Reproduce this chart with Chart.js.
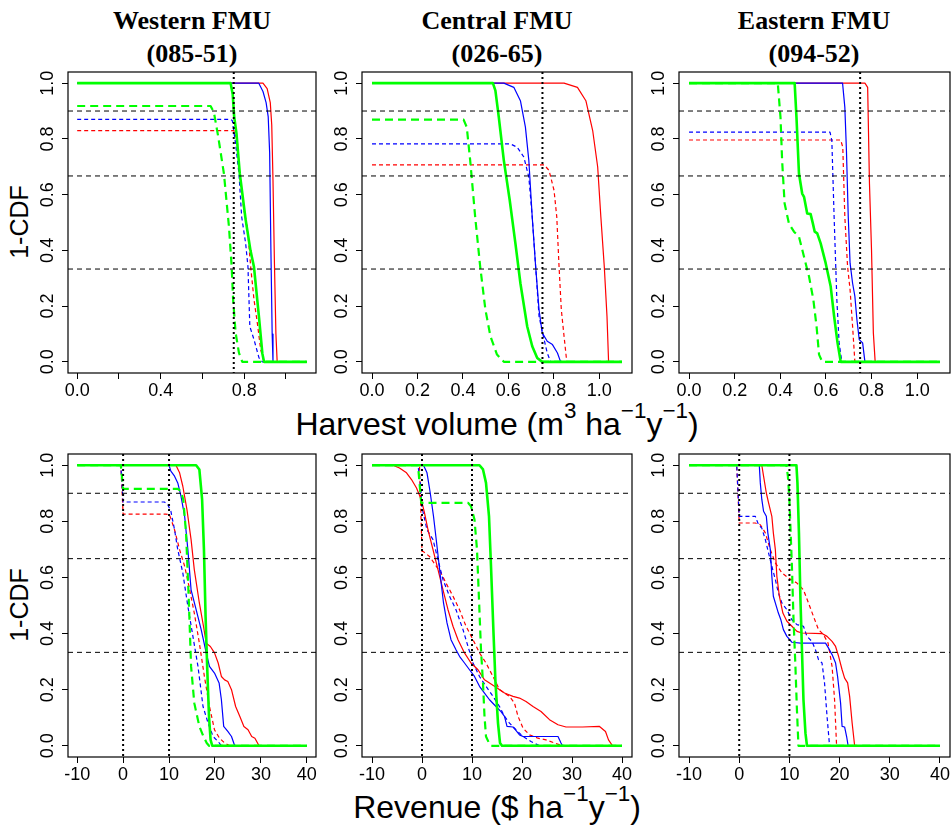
<!DOCTYPE html>
<html>
<head>
<meta charset="utf-8">
<script src="https://cdn.jsdelivr.net/npm/chart.js@4.4.1/dist/chart.umd.min.js"></script>
<style>
  html, body { margin: 0; padding: 0; background: #fff; }
  body { width: 952px; height: 828px; position: relative; overflow: hidden; }
  .panel { position: absolute; }
  .ttl {
    position: absolute; transform: translateX(-50%); white-space: nowrap; text-align: center;
    font: bold 26px 'Liberation Serif', 'Times New Roman', serif; line-height: 33px; color: #000;
  }
  .axt {
    position: absolute; transform: translateX(-50%); white-space: nowrap;
    font: 32px 'Liberation Sans', Arial, sans-serif; line-height: 40px; color: #000;
  }
  .axt .sup { font-size: 0.7em; vertical-align: 0.76em; line-height: 0; }
  .ylab {
    position: absolute; width: 100px; height: 30px; line-height: 30px; text-align: center;
    font: 25px 'Liberation Sans', Arial, sans-serif; color: #000; transform: rotate(-90deg);
  }
</style>
</head>
<body>
<div class="ttl" style="left:192px; top:4px">Western FMU<br>(085-51)</div>
<div class="ttl" style="left:497px; top:4px">Central FMU<br>(026-65)</div>
<div class="ttl" style="left:814px; top:4px">Eastern FMU<br>(094-52)</div>
<div class="axt" style="left:497px; top:404px">Harvest volume (m<span class="sup">3</span> ha<span class="sup">−1</span>y<span class="sup">−1</span>)</div>
<div class="axt" style="left:497px; top:787px">Revenue ($ ha<span class="sup">−1</span>y<span class="sup">−1</span>)</div>
<div class="ylab" style="left:-30px; top:207px">1-CDF</div>
<div class="ylab" style="left:-30px; top:590px">1-CDF</div>

<script>
// ---- data: [x, 1-CDF] pairs per management scenario ----

// harvest volume, Western FMU (085-51)
const volWestRed = [[0,1],[0.89,1],[0.91,0.98],[0.925,0.93],[0.932,0.85],[0.938,0.65],[0.945,0.35],[0.952,0.1],[0.958,0],[1.1,0]];
const volWestBlue = [[0,1],[0.87,1],[0.89,0.97],[0.905,0.93],[0.915,0.88],[0.922,0.75],[0.928,0.4],[0.934,0.1],[0.938,0],[1.1,0]];
const volWestGreen = [[0,1],[0.735,1],[0.745,0.96],[0.752,0.88],[0.763,0.82],[0.779,0.675],[0.807,0.51],[0.83,0.4],[0.847,0.34],[0.871,0.16],[0.887,0.03],[0.895,0],[1.1,0]];
const volWestRedDash = [[0,0.83],[0.751,0.83],[0.767,0.794],[0.779,0.663],[0.799,0.544],[0.815,0.485],[0.831,0.342],[0.847,0.223],[0.863,0.139],[0.879,0.044],[0.895,0],[1.1,0]];
const volWestBlueDash = [[0,0.87],[0.735,0.87],[0.743,0.866],[0.759,0.782],[0.775,0.675],[0.788,0.52],[0.807,0.425],[0.818,0.342],[0.827,0.127],[0.847,0.08],[0.871,0.014],[0.887,0],[1.1,0]];
const volWestGreenDash = [[0,0.918],[0.639,0.918],[0.655,0.895],[0.676,0.806],[0.703,0.675],[0.727,0.485],[0.74,0.342],[0.747,0.223],[0.759,0.104],[0.775,0.032],[0.791,0],[1.1,0]];

// harvest volume, Central FMU (026-65)
const volCentRed = [[0,1],[0.845,1],[0.904,0.985],[0.941,0.937],[0.971,0.83],[0.993,0.699],[1.007,0.52],[1.022,0.342],[1.034,0.163],[1.041,0],[1.1,0]];
const volCentBlue = [[0,1],[0.58,1],[0.624,0.985],[0.653,0.937],[0.675,0.842],[0.69,0.723],[0.705,0.52],[0.72,0.342],[0.735,0.187],[0.749,0.104],[0.771,0.074],[0.794,0.062],[0.816,0.032],[0.83,0],[1.1,0]];
const volCentGreen = [[0,1],[0.532,1],[0.543,0.973],[0.558,0.877],[0.58,0.723],[0.606,0.58],[0.631,0.425],[0.653,0.282],[0.683,0.127],[0.705,0.056],[0.727,0.014],[0.749,0],[1.1,0]];
const volCentRedDash = [[0,0.707],[0.757,0.707],[0.779,0.687],[0.801,0.615],[0.813,0.52],[0.823,0.342],[0.833,0.187],[0.845,0.092],[0.857,0],[1.1,0]];
const volCentBlueDash = [[0,0.782],[0.609,0.782],[0.639,0.77],[0.668,0.735],[0.69,0.663],[0.705,0.52],[0.72,0.342],[0.735,0.163],[0.754,0.092],[0.771,0.032],[0.786,0],[1.1,0]];
const volCentGreenDash = [[0,0.869],[0.403,0.869],[0.417,0.842],[0.432,0.723],[0.454,0.52],[0.476,0.342],[0.499,0.187],[0.521,0.092],[0.55,0.026],[0.58,0],[1.1,0]];

// harvest volume, Eastern FMU (094-52)
const volEastRed = [[0,1],[0.771,1],[0.783,0.985],[0.791,0.639],[0.8,0.4],[0.808,0.104],[0.816,0],[1.1,0]];
const volEastBlue = [[0,1],[0.673,1],[0.683,0.913],[0.69,0.758],[0.698,0.52],[0.706,0.354],[0.717,0.282],[0.727,0.235],[0.736,0.151],[0.746,0.08],[0.761,0.068],[0.771,0],[1.1,0]];
const volEastGreen = [[0,1],[0.463,1],[0.471,0.877],[0.482,0.675],[0.496,0.604],[0.504,0.592],[0.518,0.532],[0.533,0.53],[0.543,0.496],[0.551,0.467],[0.562,0.461],[0.577,0.425],[0.599,0.354],[0.621,0.27],[0.636,0.163],[0.651,0.068],[0.665,0],[1.1,0]];
const volEastRedDash = [[0,0.796],[0.665,0.796],[0.674,0.77],[0.683,0.52],[0.695,0.342],[0.706,0.258],[0.717,0.127],[0.727,0],[1.1,0]];
const volEastBlueDash = [[0,0.824],[0.618,0.824],[0.626,0.794],[0.636,0.52],[0.648,0.223],[0.658,0.068],[0.67,0],[1.1,0]];
const volEastGreenDash = [[0,1],[0.389,1],[0.401,0.877],[0.408,0.723],[0.419,0.568],[0.438,0.496],[0.46,0.467],[0.482,0.449],[0.504,0.377],[0.526,0.306],[0.545,0.223],[0.559,0.127],[0.57,0.026],[0.584,0],[1.1,0]];

// revenue, Western FMU
const revWestRed = [[-10,1],[11.5,1],[12.3,0.973],[13,0.925],[13.9,0.842],[14.8,0.735],[15.5,0.628],[16.6,0.509],[17.5,0.426],[18.1,0.366],[19,0.354],[19.9,0.331],[20.7,0.295],[21.4,0.247],[22.1,0.235],[22.8,0.229],[23.6,0.2],[24.5,0.14],[25.4,0.105],[26.3,0.069],[27.2,0.057],[28,0.033],[28.7,0.027],[29.6,0],[40,0]];
const revWestBlue = [[-10,1],[10,1],[10.4,0.979],[11.2,0.961],[11.9,0.937],[12.6,0.89],[13.4,0.818],[14.1,0.699],[14.8,0.556],[15.9,0.485],[17,0.414],[18.1,0.331],[18.8,0.283],[19.9,0.259],[20.9,0.224],[21.4,0.164],[21.9,0.069],[22.8,0.051],[23.6,0.033],[24.3,0],[40,0]];
const revWestGreen = [[-10,1],[15.9,1],[16.6,0.985],[17.2,0.878],[17.6,0.7],[17.96,0.46],[18.3,0.283],[18.7,0.105],[19.05,0.021],[19.4,0],[40,0]];
const revWestRedDash = [[-10,1],[-0.5,1],[0,0.826],[9.3,0.826],[10.1,0.824],[11.2,0.77],[12.3,0.699],[13.4,0.64],[14.5,0.556],[15.5,0.473],[16.6,0.366],[17.7,0.247],[18.8,0.14],[19.9,0.057],[21,0.027],[22.1,0.01],[23.2,0],[40,0]];
const revWestBlueDash = [[-10,1],[-0.5,1],[0,0.869],[9,0.869],[9.7,0.86],[10.4,0.836],[11.2,0.77],[11.9,0.699],[13,0.616],[14.1,0.497],[15.2,0.39],[16.3,0.283],[17.4,0.14],[18.5,0.081],[19.6,0.033],[20.7,0.015],[21.4,0],[40,0]];
const revWestGreenDash = [[-10,1],[-0.5,1],[0,0.916],[11.9,0.916],[12.6,0.907],[13.1,0.878],[13.7,0.759],[14.3,0.521],[14.8,0.283],[15.5,0.152],[16.6,0.069],[17.5,0.033],[18.2,0.01],[18.7,0],[40,0]];

// revenue, Central FMU
const revCentRed = [[-10,1],[-5.8,1],[-4.5,0.99],[-3.1,0.973],[-2.1,0.949],[-1.1,0.919],[-0.15,0.878],[0.5,0.83],[1.2,0.77],[2.2,0.699],[3.2,0.628],[4.2,0.556],[5.2,0.485],[6.2,0.426],[7.2,0.378],[8.5,0.331],[9.8,0.295],[11.2,0.271],[12.5,0.235],[13.5,0.224],[14.8,0.209],[16.5,0.188],[18.2,0.176],[19.5,0.17],[20.8,0.158],[22.2,0.14],[23.8,0.122],[25.5,0.093],[27.2,0.075],[28.8,0.067],[32.1,0.067],[35.5,0.069],[36.7,0.051],[37.3,0.021],[38.1,0],[40,0]];
const revCentBlue = [[-10,1],[0.3,1],[1,0.973],[1.65,0.901],[2.3,0.818],[3,0.711],[3.6,0.616],[4.3,0.509],[5,0.438],[5.8,0.378],[6.8,0.342],[7.5,0.319],[8.5,0.295],[9.5,0.271],[10.5,0.247],[11.5,0.212],[12.5,0.188],[13.5,0.164],[14.8,0.14],[15.8,0.122],[16.5,0.105],[17,0.069],[18.2,0.067],[18.7,0.057],[19.5,0.039],[20.2,0.033],[27.2,0.033],[27.8,0.01],[28.1,0],[40,0]];
const revCentGreen = [[-10,1],[11.5,1],[12.2,0.985],[12.8,0.937],[13.4,0.818],[13.8,0.64],[14.3,0.402],[14.7,0.224],[15.2,0.081],[15.6,0.01],[16,0],[40,0]];
const revCentRedDash = [[-10,1],[-0.5,1],[0,0.693],[0.2,0.693],[1.5,0.675],[2.85,0.64],[3.8,0.616],[4.8,0.58],[6.2,0.533],[7.5,0.485],[8.8,0.426],[10.2,0.378],[11.5,0.331],[12.8,0.295],[14.2,0.247],[15.5,0.2],[17.5,0.176],[18.5,0.152],[19.2,0.105],[20.2,0.063],[21.5,0.039],[23.2,0.027],[24.8,0.021],[26.5,0.01],[28.1,0],[40,0]];
const revCentBlueDash = [[-10,1],[-0.8,1],[-0.3,0.93],[0,0.85],[1,0.77],[2.2,0.735],[3.2,0.663],[4.2,0.592],[5.5,0.533],[6.8,0.485],[8.2,0.414],[9.2,0.354],[10.2,0.295],[11.5,0.247],[12.8,0.212],[14.2,0.176],[15.5,0.14],[16.5,0.105],[17.5,0.081],[18.8,0.057],[20.2,0.033],[21.8,0.015],[23.5,0],[40,0]];
const revCentGreenDash = [[-10,1],[-0.8,1],[-0.15,0.866],[9.2,0.866],[9.8,0.854],[10.5,0.806],[11,0.699],[11.4,0.521],[11.8,0.342],[12.2,0.224],[12.5,0.105],[12.8,0.033],[13.4,0.01],[13.8,0],[40,0]];

// revenue, Eastern FMU
const revEastRed = [[-10,1],[4.5,1],[4.85,0.961],[5.4,0.901],[5.85,0.866],[6.5,0.818],[6.8,0.759],[7.2,0.699],[7.5,0.604],[8,0.533],[8.7,0.473],[9.5,0.444],[10.5,0.426],[11.5,0.408],[12.5,0.402],[16.5,0.4],[17.5,0.39],[18.5,0.372],[19.2,0.354],[19.8,0.319],[20.5,0.271],[21,0.241],[21.6,0.224],[22,0.176],[22.5,0.081],[23,0],[40,0]];
const revEastBlue = [[-10,1],[4,1],[4.2,0.937],[4.5,0.878],[4.85,0.836],[5.4,0.818],[5.7,0.759],[6.2,0.699],[6.5,0.604],[6.8,0.533],[7.4,0.497],[7.8,0.473],[8.3,0.449],[8.8,0.414],[9.5,0.39],[10.5,0.369],[12.2,0.366],[17.2,0.366],[17.8,0.348],[18.5,0.325],[19.2,0.295],[19.6,0.247],[20.2,0.152],[20.5,0.069],[21,0.067],[21.4,0.033],[21.7,0],[40,0]];
const revEastGreen = [[-10,1],[11.4,1],[11.6,0.937],[11.9,0.759],[12.2,0.521],[12.5,0.342],[12.8,0.164],[13.2,0.045],[13.5,0],[40,0]];
const revEastRedDash = [[-10,1],[-0.5,1],[0,0.794],[3.2,0.794],[4.2,0.788],[5.2,0.759],[6.2,0.699],[7.2,0.652],[8.5,0.616],[9.8,0.598],[11.5,0.58],[12.8,0.556],[13.8,0.509],[14.8,0.461],[15.8,0.414],[16.8,0.396],[17.7,0.366],[18.5,0.283],[19,0.164],[19.4,0],[40,0]];
const revEastBlueDash = [[-10,1],[-0.5,1],[0,0.818],[3.2,0.818],[3.85,0.788],[4.5,0.776],[5.2,0.735],[5.85,0.687],[6.5,0.64],[7.2,0.592],[7.8,0.545],[8.5,0.509],[9.5,0.485],[10.5,0.449],[11.5,0.432],[12.8,0.426],[13.5,0.39],[14.5,0.372],[15.2,0.342],[15.8,0.307],[16.5,0.295],[17,0.224],[17.5,0.105],[18,0],[40,0]];
const revEastGreenDash = [[-10,1],[9.4,1],[9.7,0.961],[10,0.878],[10.5,0.64],[10.8,0.461],[11.2,0.283],[11.5,0.128],[11.8,0],[40,0]];

// axes and reference lines
const volTicks = [0, 0.2, 0.4, 0.6, 0.8, 1.0];
const volTicksWest = [0, 0.4, 0.8];          // labels R kept on the narrow panel
const revTicks = [-10, 0, 10, 20, 30, 40];
const cdfTicks = [0, 0.2, 0.4, 0.6, 0.8, 1.0];
const cdfLevels = [0.9, 0.667, 0.333];
const volRefX = [0.75];
const revRefX = [0, 10];

// ---- layout (pixels) ----
const COLS = [[68, 316], [362, 632], [679, 950]];
const ROWS = [[72, 373], [454, 757]];
const AXIS_W = 50, AXIS_H = 34, PAD_T = 4, PAD_R = 16;
const SANS = "'Liberation Sans', Arial, sans-serif";

// line styles, listed top-most first (Chart.js draws dataset 0 last)
const STYLES = [
  { color: '#00ff00', width: 2.6, dash: [] },       // green solid
  { color: '#00ff00', width: 2.2, dash: [8, 5] },   // green dashed
  { color: '#0000ff', width: 1.2, dash: [] },
  { color: '#ff0000', width: 1.2, dash: [] },
  { color: '#0000ff', width: 1.2, dash: [4, 3] },
  { color: '#ff0000', width: 1.2, dash: [4, 3] },
];

const framePlugin = {
  id: 'frame',
  afterDatasetsDraw(chart, args, opts) {
    const { ctx, chartArea: a, scales: { x, y } } = chart;
    ctx.save();
    ctx.beginPath();
    ctx.rect(a.left, a.top, a.right - a.left, a.bottom - a.top);
    ctx.clip();
    ctx.strokeStyle = '#000';
    ctx.lineWidth = 1;
    ctx.setLineDash([5, 4]);
    for (const v of cdfLevels) {
      const py = y.getPixelForValue(v);
      ctx.beginPath(); ctx.moveTo(a.left, py); ctx.lineTo(a.right, py); ctx.stroke();
    }
    ctx.lineWidth = 2;
    ctx.setLineDash([2, 3]);
    for (const v of opts.refX) {
      const px = x.getPixelForValue(v);
      ctx.beginPath(); ctx.moveTo(px, a.top); ctx.lineTo(px, a.bottom); ctx.stroke();
    }
    ctx.restore();

    ctx.save();
    ctx.strokeStyle = '#000';
    ctx.lineWidth = 1.2;
    ctx.strokeRect(a.left, a.top, a.right - a.left, a.bottom - a.top);
    // y tick labels run along the axis, as in base R
    ctx.fillStyle = '#000';
    ctx.font = '18px ' + SANS;
    ctx.textAlign = 'center';
    ctx.textBaseline = 'alphabetic';
    for (const v of cdfTicks) {
      ctx.save();
      ctx.translate(a.left - 15, y.getPixelForValue(v));
      ctx.rotate(-Math.PI / 2);
      ctx.fillText(v.toFixed(1), 0, 0);
      ctx.restore();
    }
    ctx.restore();
  }
};

function makePanel(col, row, series, xr, xTicks, xShown, refX, fmt) {
  const [l, r] = COLS[col];
  const [t, b] = ROWS[row];
  const div = document.createElement('div');
  div.className = 'panel';
  const w = r - l + AXIS_W + PAD_R, h = b - t + PAD_T + AXIS_H;
  div.style.left = (l - AXIS_W) + 'px';
  div.style.top = (t - PAD_T) + 'px';
  const cv = document.createElement('canvas');
  cv.width = w; cv.height = h;
  cv.style.width = w + 'px'; cv.style.height = h + 'px';
  div.appendChild(cv);
  document.body.appendChild(div);

  const gridOpts = { drawOnChartArea: false, drawTicks: true, tickLength: 6, color: '#000', lineWidth: 1 };
  new Chart(cv, {
    type: 'line',
    data: {
      datasets: series.map((pts, i) => ({
        data: pts.map(([px, py]) => ({ x: px, y: py })),
        borderColor: STYLES[i].color,
        borderWidth: STYLES[i].width,
        borderDash: STYLES[i].dash,
        borderJoinStyle: 'round',
        pointRadius: 0,
        fill: false,
        tension: 0,
      })),
    },
    options: {
      responsive: false,
      animation: false,
      devicePixelRatio: 1,
      layout: { padding: { top: PAD_T, right: PAD_R, left: 0, bottom: 0 } },
      plugins: { legend: { display: false }, tooltip: { enabled: false }, frame: { refX } },
      scales: {
        x: {
          type: 'linear', min: xr[0], max: xr[1],
          afterBuildTicks: s => { s.ticks = xTicks.map(v => ({ value: v })); },
          afterFit: s => { s.height = AXIS_H; },
          grid: gridOpts,
          border: { display: false },
          ticks: {
            autoSkip: false, maxRotation: 0, minRotation: 0, padding: 1, color: '#000',
            font: { family: SANS, size: 18 },
            callback: v => (xShown.some(s => Math.abs(s - v) < 1e-9) ? fmt(v) : ''),
          },
        },
        y: {
          type: 'linear', min: -0.04, max: 1.04,
          afterBuildTicks: s => { s.ticks = cdfTicks.map(v => ({ value: v })); },
          afterFit: s => { s.width = AXIS_W; },
          grid: gridOpts,
          border: { display: false },
          ticks: { display: false },
        },
      },
    },
    plugins: [framePlugin],
  });
}

const volRange = [-0.044, 1.144];
const revRange = [-12, 42];
const volFmt = v => v.toFixed(1);
const revFmt = v => String(v);

makePanel(0, 0, [volWestGreen, volWestGreenDash, volWestBlue, volWestRed, volWestBlueDash, volWestRedDash], volRange, volTicks, volTicksWest, volRefX, volFmt);
makePanel(1, 0, [volCentGreen, volCentGreenDash, volCentBlue, volCentRed, volCentBlueDash, volCentRedDash], volRange, volTicks, volTicks, volRefX, volFmt);
makePanel(2, 0, [volEastGreen, volEastGreenDash, volEastBlue, volEastRed, volEastBlueDash, volEastRedDash], volRange, volTicks, volTicks, volRefX, volFmt);
makePanel(0, 1, [revWestGreen, revWestGreenDash, revWestBlue, revWestRed, revWestBlueDash, revWestRedDash], revRange, revTicks, revTicks, revRefX, revFmt);
makePanel(1, 1, [revCentGreen, revCentGreenDash, revCentBlue, revCentRed, revCentBlueDash, revCentRedDash], revRange, revTicks, revTicks, revRefX, revFmt);
makePanel(2, 1, [revEastGreen, revEastGreenDash, revEastBlue, revEastRed, revEastBlueDash, revEastRedDash], revRange, revTicks, revTicks, revRefX, revFmt);
</script>
</body>
</html>
